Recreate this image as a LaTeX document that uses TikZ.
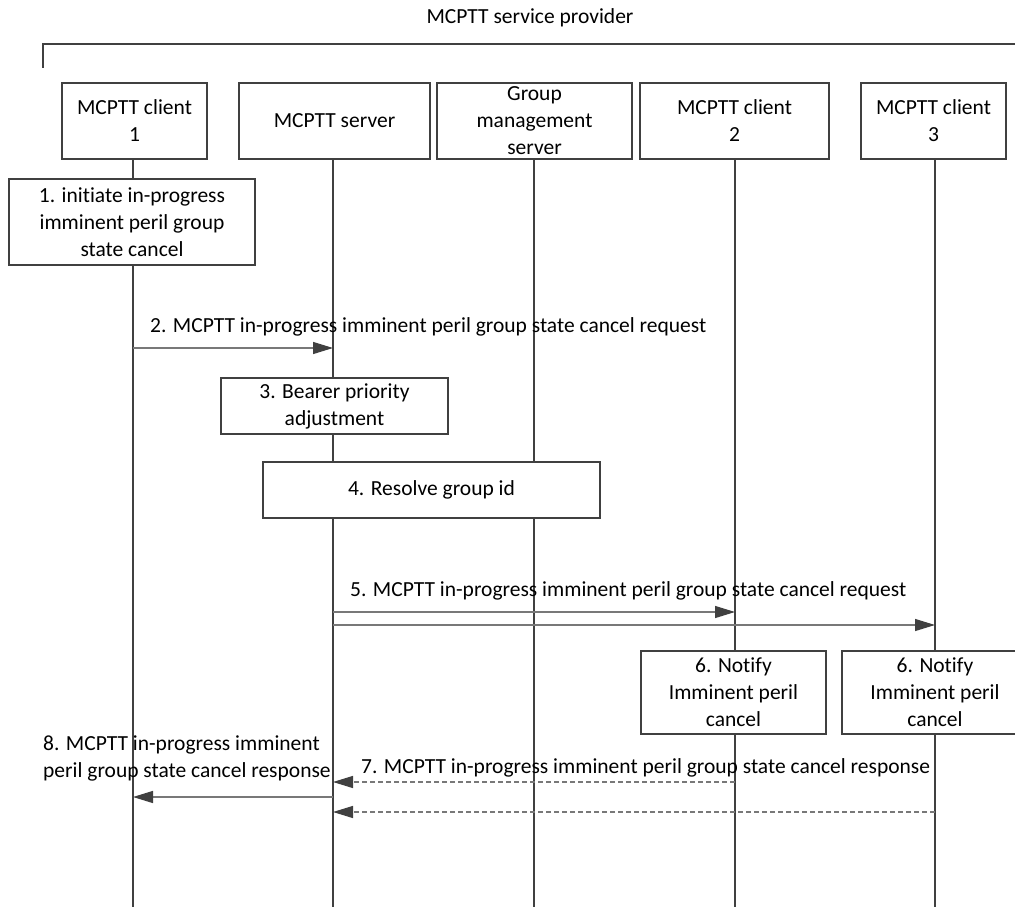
\documentclass[tikz,border=0pt]{standalone}
\usepackage{fontspec}
\setmainfont[Ligatures=NoCommon]{Carlito}
\usetikzlibrary{arrows.meta}
\definecolor{ln}{RGB}{64,64,64}
\definecolor{ar}{RGB}{120,120,120}
\begin{document}
\begin{tikzpicture}[x=1pt,y=-1pt,
  every node/.style={font=\fontsize{21.5}{27}\selectfont, inner sep=0pt},
  hdr/.style={draw=ln, line width=1.2pt, fill=white, align=center, minimum height=76pt},
  stepbox/.style={draw=ln, line width=1.2pt, fill=white, align=center},
  life/.style={draw=ln, line width=1.2pt},
  msg/.style={draw=ar, line width=1.3pt, -{Triangle[length=20pt,width=12pt,fill=ln,color=ln]}},
  rsp/.style={msg, dash pattern=on 5pt off 3pt},
  lbl/.style={anchor=west}]
\useasboundingbox (0,0) rectangle (1015,907);
% title and bracket
\node (title) at (530,18) {MCPTT service provider};
\coordinate (bl) at (43,68);
\coordinate (bt) at (43,44);
\coordinate (br) at (1016,44);
\draw[ln, line width=1.2pt] (bl) -- (bt) -- (br);
% lifeline ends
\coordinate (e1) at (133,907);
\coordinate (e2) at (333,907);
\coordinate (e3) at (534,907);
\coordinate (e4) at (735,907);
\coordinate (e5) at (935,907);
% headers
\node[hdr, minimum width=145pt] (c1) at (134.5,121) {MCPTT client\\1};
\node[hdr, minimum width=191pt] (srv) at (334.5,121) {MCPTT server};
\node[hdr, minimum width=195pt] (gms) at (534.5,121) {Group\\management\\server};
\node[hdr, minimum width=189pt] (c2) at (734.5,121) {MCPTT client\\2};
\node[hdr, minimum width=145pt] (c3) at (933.5,121) {MCPTT client\\3};
% lifelines
\draw[life] (c1.south -| e1) -- (e1);
\draw[life] (srv.south -| e2) -- (e2);
\draw[life] (gms.south -| e3) -- (e3);
\draw[life] (c2.south -| e4) -- (e4);
\draw[life] (c3.south -| e5) -- (e5);
% step boxes
\node[stepbox, minimum width=246pt, minimum height=86pt] (s1) at (132,222) {1. initiate in-progress\\imminent peril group\\state cancel};
\node[stepbox, minimum width=227pt, minimum height=56pt] (s3) at (334.5,406) {3. Bearer priority\\adjustment};
\node[stepbox, minimum width=337pt, minimum height=56pt] (s4) at (431.5,490) {4. Resolve group id};
\node[stepbox, minimum width=185pt, minimum height=83pt] (s6a) at (733.5,692.5) {6. Notify\\Imminent peril\\cancel};
\node[stepbox, minimum width=186pt, minimum height=83pt] (s6b) at (935,692.5) {6. Notify\\Imminent peril\\cancel};
% message points
\coordinate (m2a) at (133,348);
\coordinate (m2b) at (333,348);
\coordinate (m5a) at (333,612);
\coordinate (m5b) at (735,612);
\coordinate (m5c) at (333,625);
\coordinate (m5d) at (935,625);
\coordinate (m7a) at (735,782);
\coordinate (m7b) at (333,782);
\coordinate (m7c) at (935,812);
\coordinate (m7d) at (333,812);
\coordinate (m8a) at (333,797);
\coordinate (m8b) at (133,797);
% messages
\draw[msg] (m2a) -- (m2b);
\node[lbl] (l2) at (150,327) {2. MCPTT in-progress imminent peril group state cancel request};
\draw[msg] (m5a) -- (m5b);
\draw[msg] (m5c) -- (m5d);
\node[lbl] (l5) at (350,591) {5. MCPTT in-progress imminent peril group state cancel request};
\draw[rsp] (m7a) -- (m7b);
\draw[rsp] (m7c) -- (m7d);
\node[lbl] (l7) at (361,768) {7. MCPTT in-progress imminent peril group state cancel response};
\draw[msg] (m8a) -- (m8b);
\node[lbl, align=left] (l8) at (43,758) {8. MCPTT in-progress imminent\\peril group state cancel response};
\end{tikzpicture}
\end{document}
